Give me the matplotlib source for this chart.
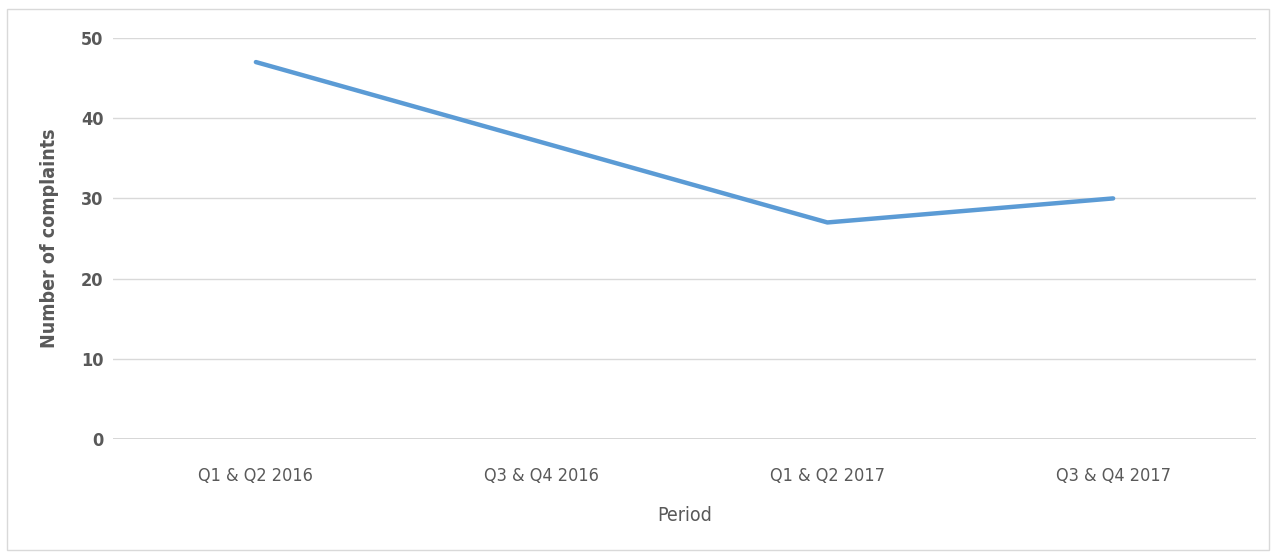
import matplotlib.pyplot as plt
from matplotlib.patches import Rectangle

periods = ['Q1 & Q2 2016', 'Q3 & Q4 2016', 'Q1 & Q2 2017', 'Q3 & Q4 2017']
complaints = [47, 37, 27, 30]
y_ticks = [0, 10, 20, 30, 40, 50]

txt = '#595959'
plt.rcParams['font.family'] = ['DejaVu Sans']
plt.rcParams['font.stretch'] = 'condensed'

fig = plt.figure(figsize=(12.76, 5.57), dpi=100)
# outer chart border
fig.patches.append(Rectangle((7 / 1276, 7 / 557), 1262 / 1276, 541 / 557,
                             transform=fig.transFigure, fill=False,
                             edgecolor='#d9d9d9', linewidth=1))

ax = fig.add_axes([113 / 1276, 1 - 439 / 557, 1143 / 1276, 401 / 557])
x = list(range(len(periods)))
ax.plot(x, complaints, color='#5b9bd5', linewidth=3.2, solid_capstyle='round')

ax.set_xlim(-0.5, len(periods) - 0.5)
ax.set_ylim(0, 50)
ax.set_yticks(y_ticks)
ax.set_xticks(x)
ax.set_xticklabels(periods)
ax.grid(axis='y', color='#d9d9d9', linewidth=1)
ax.set_axisbelow(True)
for s in ax.spines.values():
    s.set_visible(False)
ax.axhline(0, color='#d0d0d0', linewidth=1.2, zorder=0)
ax.tick_params(length=0, colors=txt, labelsize=13)
ax.tick_params(axis='y', pad=7)
ax.tick_params(axis='x', pad=20)
for lab in ax.get_yticklabels():
    lab.set_fontweight('bold')

ax.set_ylabel('Number of complaints', color=txt, fontsize=14, fontweight='bold', labelpad=16)
ax.set_xlabel('Period', color=txt, fontsize=14, labelpad=15)

fig.savefig('out.png', dpi=100)
